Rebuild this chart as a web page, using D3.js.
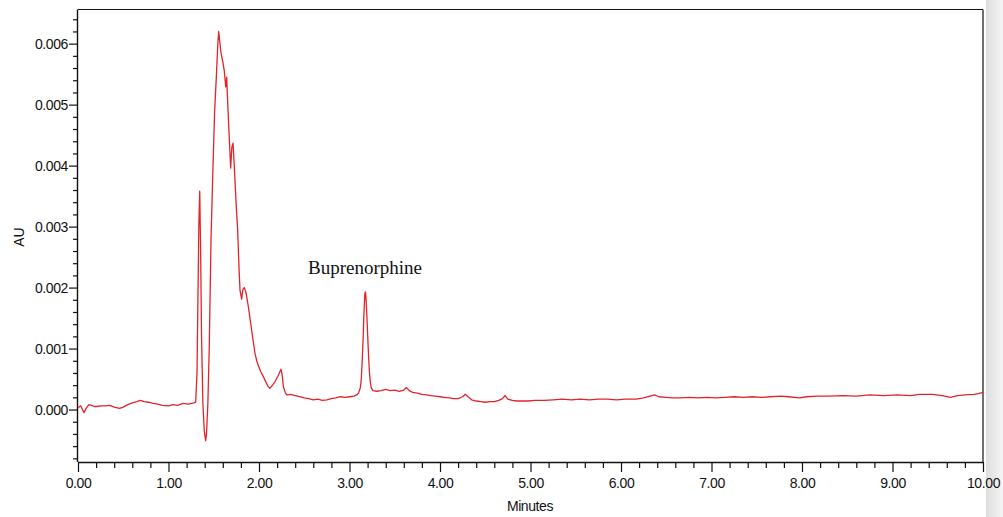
<!DOCTYPE html>
<html>
<head>
<meta charset="utf-8">
<script src="https://cdn.jsdelivr.net/npm/d3@7/dist/d3.min.js"></script>
<style>
  html, body { margin: 0; padding: 0; background: #fff; }
  svg { display: block; }
</style>
</head>
<body>
<svg id="chart" width="1003" height="517"></svg>
<script>
// ---- Data (time in minutes, absorbance in mAU) ----
const times = [
  0.00,0.03,0.05,0.066,0.09,0.12,0.15,0.18,0.21,0.25,0.30,0.35,0.40,0.46,0.50,0.55,0.60,0.65,0.69,0.73,
  0.78,0.83,0.88,0.93,1.00,1.05,1.10,1.16,1.22,1.28,1.30,1.315,1.325,1.335,1.345,1.355,1.365,1.38,1.395,1.41,
  1.42,1.435,1.45,1.47,1.49,1.51,1.53,1.545,1.555,1.565,1.58,1.60,1.617,1.632,1.643,1.655,1.67,1.687,1.70,1.713,
  1.73,1.75,1.764,1.78,1.79,1.808,1.822,1.838,1.855,1.87,1.882,1.90,1.919,1.94,1.956,1.975,1.99,2.02,2.048,2.08,
  2.10,2.12,2.15,2.177,2.21,2.243,2.255,2.27,2.29,2.306,2.35,2.40,2.45,2.50,2.55,2.60,2.65,2.70,2.75,2.80,
  2.85,2.90,2.95,3.00,3.05,3.08,3.10,3.12,3.13,3.14,3.15,3.16,3.17,3.175,3.18,3.19,3.20,3.21,3.22,3.23,
  3.24,3.26,3.30,3.35,3.40,3.45,3.50,3.55,3.60,3.63,3.66,3.70,3.75,3.80,3.85,3.90,3.95,4.00,4.05,4.10,
  4.15,4.20,4.25,4.28,4.31,4.35,4.40,4.45,4.50,4.55,4.60,4.65,4.69,4.72,4.75,4.80,4.85,4.90,4.97,5.05,
  5.15,5.25,5.35,5.45,5.55,5.65,5.75,5.85,5.95,6.05,6.17,6.25,6.32,6.37,6.42,6.50,6.57,6.65,6.75,6.85,
  6.95,7.05,7.15,7.25,7.35,7.45,7.55,7.65,7.77,7.85,7.97,8.05,8.17,8.30,8.45,8.60,8.75,8.90,9.05,9.20,
  9.30,9.44,9.55,9.64,9.72,9.80,9.90,9.95,10.00
];
const absorbanceMilliAU = [
  0.03,0.06,0.00,-0.05,0.02,0.08,0.07,0.05,0.05,0.06,0.06,0.07,0.04,0.02,0.04,0.08,0.11,0.13,0.15,0.13,
  0.12,0.10,0.09,0.07,0.06,0.08,0.07,0.10,0.09,0.11,0.12,0.6,1.8,3.0,3.58,2.6,1.2,0.1,-0.35,-0.51,
  -0.4,0.1,1.0,2.8,3.9,4.9,5.5,6.0,6.2,6.05,5.85,5.7,5.55,5.29,5.45,5.0,4.5,3.96,4.3,4.37,
  3.9,3.3,2.95,2.3,1.96,1.81,1.97,2.0,1.92,1.8,1.69,1.5,1.30,1.08,0.92,0.80,0.73,0.62,0.54,0.44,
  0.38,0.35,0.40,0.46,0.55,0.66,0.58,0.37,0.28,0.24,0.25,0.23,0.21,0.19,0.18,0.16,0.17,0.15,0.16,0.18,
  0.19,0.21,0.20,0.21,0.22,0.24,0.27,0.36,0.50,0.78,1.15,1.60,1.90,1.93,1.88,1.60,1.25,0.90,0.62,0.45,
  0.36,0.31,0.30,0.31,0.33,0.31,0.32,0.30,0.32,0.36,0.31,0.28,0.27,0.25,0.24,0.23,0.22,0.21,0.20,0.19,
  0.18,0.18,0.21,0.25,0.21,0.16,0.14,0.13,0.12,0.13,0.13,0.15,0.18,0.23,0.17,0.15,0.14,0.14,0.14,0.15,
  0.15,0.16,0.17,0.16,0.17,0.16,0.17,0.17,0.16,0.17,0.17,0.19,0.22,0.24,0.21,0.20,0.19,0.19,0.20,0.19,
  0.20,0.19,0.20,0.21,0.20,0.21,0.20,0.21,0.22,0.21,0.19,0.21,0.22,0.22,0.23,0.22,0.24,0.23,0.24,0.23,
  0.25,0.25,0.23,0.20,0.23,0.24,0.25,0.26,0.28
];
const xTickLabels = ["0.00","1.00","2.00","3.00","4.00","5.00","6.00","7.00","8.00","9.00","10.00"];
const yTickLabels = ["0.000","0.001","0.002","0.003","0.004","0.005","0.006"];
const peakLabel = "Buprenorphine";
const xTitle = "Minutes";
const yTitle = "AU";

// ---- Layout ----
const svg = d3.select("#chart");
const L = 78, R = 983, T = 9.5, B = 462;
const x = d3.scaleLinear().domain([0, 10]).range([L, R]);
const y = d3.scaleLinear().domain([-0.00086, 0.00656]).range([B, T]);

// shadow band on the right edge
const defs = svg.append("defs");
const grad = defs.append("linearGradient").attr("id", "shade").attr("x1", "0").attr("x2", "1");
grad.append("stop").attr("offset", "0").attr("stop-color", "#dedede");
grad.append("stop").attr("offset", "1").attr("stop-color", "#f6f6f6");
svg.append("rect").attr("x", 986).attr("y", 0).attr("width", 17).attr("height", 517).attr("fill", "url(#shade)");

// frame top and right
svg.append("line").attr("x1", L).attr("x2", R).attr("y1", T).attr("y2", T)
  .attr("stroke", "#111").attr("stroke-width", 1.2);
svg.append("line").attr("x1", R).attr("x2", R).attr("y1", T).attr("y2", B)
  .attr("stroke", "#111").attr("stroke-width", 1.2);

const font = "'Liberation Sans', Arial, Helvetica, sans-serif";

// X axis
const xMajor = xTickLabels.map(s => +s);
const xMinor = d3.range(0, 51).map(i => i * 0.2).filter(v => Math.abs(v - Math.round(v)) > 1e-6);
const gx = svg.append("g").attr("transform", `translate(0,${B})`);
gx.call(d3.axisBottom(x).tickValues(xMinor).tickSize(6).tickFormat(""))
  .call(g => g.select(".domain").remove());
gx.append("g").call(d3.axisBottom(x).tickValues(xMajor).tickSize(10).tickPadding(6)
  .tickFormat((d, i) => xTickLabels[i]));
gx.selectAll("line").attr("stroke", "#111").attr("stroke-width", 1.2);
gx.selectAll(".domain").attr("stroke", "#111").attr("stroke-width", 1.4).attr("d", `M${L},0.5H${R}`);
gx.selectAll("text").attr("font-family", font).attr("font-size", 14).attr("fill", "#111")
  .attr("letter-spacing", "-0.4px");

// Y axis
const yMajor = yTickLabels.map(s => +s);
const yMinor = d3.range(-4, 33).map(i => i * 0.0002).filter(v => Math.abs(v * 1000 - Math.round(v * 1000)) > 1e-6);
const gy = svg.append("g").attr("transform", `translate(${L},0)`);
gy.call(d3.axisLeft(y).tickValues(yMinor).tickSize(5).tickFormat(""))
  .call(g => g.select(".domain").remove());
gy.append("g").call(d3.axisLeft(y).tickValues(yMajor).tickSize(9).tickPadding(1)
  .tickFormat((d, i) => yTickLabels[i]));
gy.selectAll("line").attr("stroke", "#111").attr("stroke-width", 1.2);
gy.selectAll(".domain").attr("stroke", "#111").attr("stroke-width", 1.4).attr("d", `M-0.5,${T}V${B}`);
gy.selectAll("text").attr("font-family", font).attr("font-size", 14).attr("fill", "#111")
  .attr("letter-spacing", "-0.4px");

// Axis titles
svg.append("text").attr("x", 530).attr("y", 511).attr("text-anchor", "middle")
  .attr("font-family", font).attr("font-size", 14).attr("letter-spacing", "-0.4px").attr("fill", "#111")
  .text(xTitle);
svg.append("text").attr("transform", "translate(24,237) rotate(-90)").attr("text-anchor", "middle")
  .attr("font-family", font).attr("font-size", 14).attr("fill", "#111")
  .text(yTitle);

// Trace
const pts = times.map((t, i) => [t, absorbanceMilliAU[i] / 1000]);
const line = d3.line().x(d => x(d[0])).y(d => y(d[1]));
svg.append("path").datum(pts).attr("d", line)
  .attr("fill", "none").attr("stroke", "#e3232a").attr("stroke-width", 1.3)
  .attr("stroke-linejoin", "round");

// Peak label
svg.append("text").attr("x", 308).attr("y", 274)
  .attr("font-family", "'Liberation Serif', 'Times New Roman', serif").attr("font-size", 19)
  .attr("fill", "#111").text(peakLabel);
</script>
</body>
</html>
